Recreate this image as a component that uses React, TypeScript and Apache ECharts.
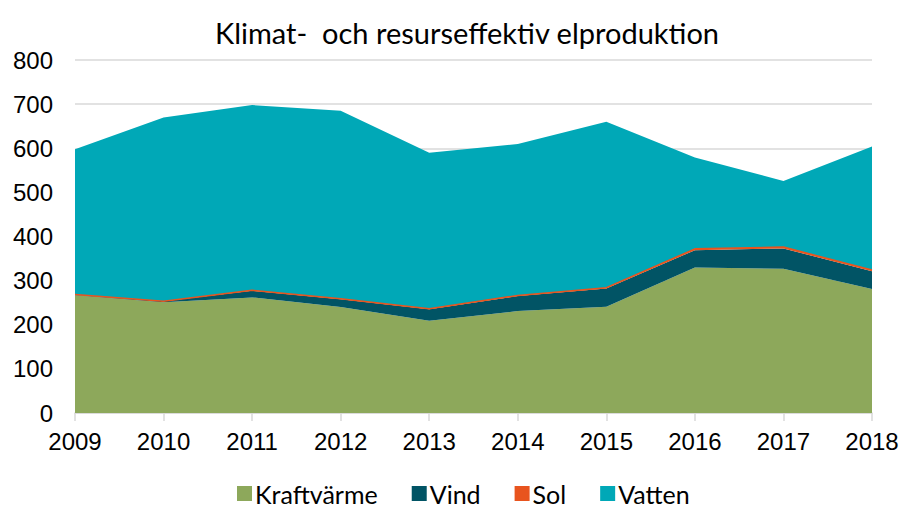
import React, { useEffect, useRef } from "react";
import * as echarts from "echarts";

const years = ["2009", "2010", "2011", "2012", "2013", "2014", "2015", "2016", "2017", "2018"];
const kraftvarme = [267, 251, 262, 240, 209, 231, 241, 330, 327, 281];
const vind = [1, 2, 15, 18, 26, 34, 41, 39, 46, 40];
const sol = [0.5, 0.5, 1, 1, 1, 1.5, 2, 3, 3, 3];
const vatten = [329, 416, 420, 426, 354, 343, 376, 207, 150, 280];

const colors = { kraft: "#8DA85B", vind: "#015465", sol: "#E8541E", vatten: "#00A8B7" };

export default function App() {
  const ref = useRef<HTMLDivElement>(null);
  useEffect(() => {
    const chart = echarts.init(ref.current!, null, { renderer: "svg" });
    const mk = (name: string, data: number[], color: string, lineW = 0) => ({
      name,
      type: "line",
      stack: "total",
      data,
      symbol: "none",
      showSymbol: false,
      lineStyle: { width: lineW, color },
      areaStyle: { color, opacity: 1 },
      itemStyle: { color },
    });
    chart.setOption({
      animation: false,
      backgroundColor: "#fff",
      title: {
        text: "Klimat-  och resurseffektiv elproduktion",
        left: 462,
        textAlign: "center",
        top: 13,
        textStyle: { fontFamily: "Lato", fontSize: 29, fontWeight: "normal", color: "#000" },
      },
      legend: {
        top: 481,
        left: 237,
        padding: 0,
        itemWidth: 15,
        itemHeight: 15,
        itemGap: 34,
        icon: "rect",
        textStyle: { fontFamily: "Lato", fontSize: 25, lineHeight: 25, color: "#000", padding: [0, 0, 0, -2] },
        data: ["Kraftvärme", "Vind", "Sol", "Vatten"],
      },
      grid: { left: 75, right: 31, top: 60, bottom: 94 },
      xAxis: {
        type: "category",
        data: years,
        boundaryGap: false,
        axisLine: { lineStyle: { color: "#D9D9D9", width: 1.5 } },
        axisTick: { show: true, alignWithLabel: true, length: 8, lineStyle: { color: "#D9D9D9", width: 1.5 } },
        axisLabel: { fontFamily: "Liberation Sans", fontSize: 24, color: "#000", margin: 16 },
      },
      yAxis: {
        type: "value",
        min: 0,
        max: 800,
        interval: 100,
        axisLine: { show: false },
        axisTick: { show: false },
        axisLabel: { fontFamily: "Liberation Sans", fontSize: 24, color: "#000", margin: 22 },
        splitLine: { lineStyle: { color: "#D9D9D9", width: 1.5 } },
      },
      series: [
        mk("Kraftvärme", kraftvarme, colors.kraft),
        mk("Vind", vind, colors.vind),
        mk("Sol", sol, colors.sol, 1.5),
        mk("Vatten", vatten, colors.vatten),
      ],
    });
    return () => chart.dispose();
  }, []);
  return <div ref={ref} style={{ position: "fixed", left: 0, top: 0, width: 903, height: 507 }} />;
}
